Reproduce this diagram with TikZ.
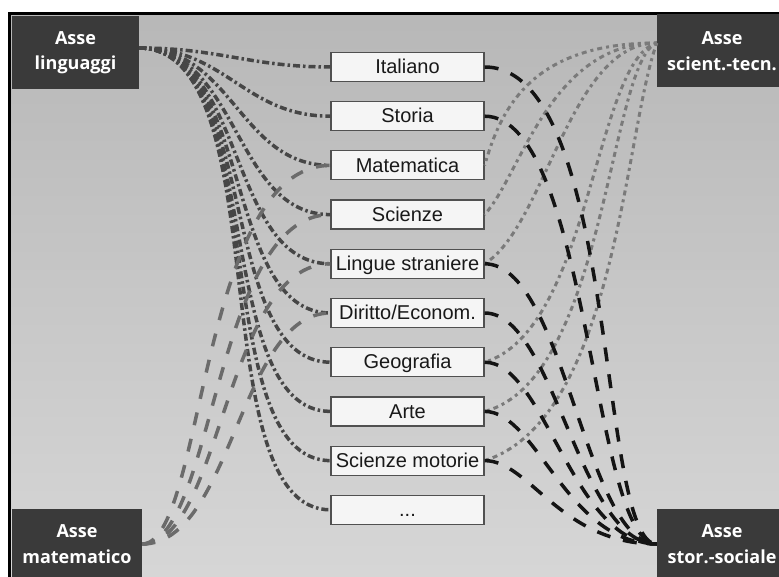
\documentclass[tikz,border=0pt]{standalone}
\usepackage{fontspec}
\setmainfont{Liberation Sans}
\newfontfamily\axisfont{Open Sans}
\usepackage{xcolor}
\usepackage{tikz}
\usetikzlibrary{positioning}

\definecolor{axisgray}{HTML}{3A3A3A}
\definecolor{boxedge}{HTML}{505050}
\definecolor{linggray}{HTML}{464646}
\definecolor{matgray}{HTML}{6B6B6B}
\definecolor{scigray}{HTML}{7A7A7A}
\definecolor{stoblack}{HTML}{141414}

\begin{document}
\begin{tikzpicture}[x=1pt, y=-1pt,
  axisbox/.style={rectangle, fill=axisgray, text=white, align=center,
    minimum width=130pt, minimum height=73pt, inner sep=0pt,
    font=\axisfont\bfseries\fontsize{18}{25.5}\selectfont},
  subjbox/.style={rectangle, draw=boxedge, line width=1.2pt, fill=black!4,
    minimum width=153pt, minimum height=29pt, inner sep=0pt,
    text height=14pt, text depth=0.5pt, text=black!90,
    font=\fontsize{20}{22}\selectfont},
  lingline/.style={draw=linggray, line width=3.5pt, dash pattern=on 7pt off 3pt on 2.5pt off 3pt},
  matline/.style={draw=matgray, line width=3.5pt, dash pattern=on 13pt off 14pt},
  sciline/.style={draw=scigray, line width=3pt, dash pattern=on 3pt off 4pt on 5pt off 4pt},
  stoline/.style={draw=stoblack, line width=3.5pt, dash pattern=on 14pt off 13pt}
]
\useasboundingbox (0,0) rectangle (779,577);

% background and frame
\fill[top color=black!28, bottom color=black!16] (9.5,13.5) rectangle (779,577);
\draw[line width=3pt] (9.5,590) -- (9.5,13.5) -- (790,13.5);

% axes
\node[axisbox, minimum width=127pt] (lin) at (75.5,52.5) {Asse\\linguaggi};
\node[axisbox] (sci) at (722,51) {Asse\\scient.-tecn.};
\node[axisbox, minimum height=70pt] (mat) at (77,544) {Asse\\matematico};
\node[axisbox, minimum height=70pt] (sto) at (722,544) {Asse\\stor.-sociale};

% subjects
\node[subjbox] (ita)  at (407.5,67)    {Italiano};
\node[subjbox] (stor) at (407.5,116.2) {Storia};
\node[subjbox] (mate) at (407.5,165.4) {Matematica};
\node[subjbox] (scie) at (407.5,214.6) {Scienze};
\node[subjbox] (ling) at (407.5,263.8) {Lingue straniere};
\node[subjbox] (dir)  at (407.5,313)   {Diritto/Econom.};
\node[subjbox] (geo)  at (407.5,362.2) {Geografia};
\node[subjbox] (arte) at (407.5,411.4) {Arte};
\node[subjbox] (mot)  at (407.5,460.6) {Scienze motorie};
\node[subjbox] (more) at (407.5,509.8) {...};

% asse linguaggi
\draw[lingline] ([yshift=4.5pt]lin.east) .. controls +(80,0)  and +(-80,0)  .. (ita.west);
\draw[lingline] ([yshift=4.5pt]lin.east) .. controls +(87,0)  and +(-86,0)  .. (stor.west);
\draw[lingline] ([yshift=4.5pt]lin.east) .. controls +(94,0)  and +(-91,0)  .. (mate.west);
\draw[lingline] ([yshift=4.5pt]lin.east) .. controls +(100,0) and +(-97,0)  .. (scie.west);
\draw[lingline] ([yshift=4.5pt]lin.east) .. controls +(107,0) and +(-103,0) .. (ling.west);
\draw[lingline] ([yshift=4.5pt]lin.east) .. controls +(114,0) and +(-108,0) .. (dir.west);
\draw[lingline] ([yshift=4.5pt]lin.east) .. controls +(121,0) and +(-114,0) .. (geo.west);
\draw[lingline] ([yshift=4.5pt]lin.east) .. controls +(127,0) and +(-120,0) .. (arte.west);
\draw[lingline] ([yshift=4.5pt]lin.east) .. controls +(134,0) and +(-125,0) .. (mot.west);
\draw[lingline] ([yshift=4.5pt]lin.east) .. controls +(141,0) and +(-131,0) .. (more.west);

% asse matematico
\draw[matline] (mat.east) .. controls +(62,0) and +(-131,0) .. (mate.west);
\draw[matline] (mat.east) .. controls +(72,0) and +(-116,0) .. (scie.west);
\draw[matline] (mat.east) .. controls +(80,0) and +(-106,0) .. (ling.west);
\draw[matline] (mat.east) .. controls +(90,0) and +(-91,0)  .. (dir.west);

% asse scientifico-tecnologico
\draw[sciline] ([yshift=8pt]sci.west) .. controls +(-127,0) and +(16,-55)  .. (mate.east);
\draw[sciline] ([yshift=8pt]sci.west) .. controls +(-107,0) and +(36,-39)  .. (scie.east);
\draw[sciline] ([yshift=8pt]sci.west) .. controls +(-87,0)  and +(61,-38)  .. (ling.east);
\draw[sciline] ([yshift=8pt]sci.west) .. controls +(-62,17)  and +(106,-32) .. (geo.east);
\draw[sciline] ([yshift=8pt]sci.west) .. controls +(-47,17)  and +(121,-31) .. (arte.east);
\draw[sciline] ([yshift=8pt]sci.west) .. controls +(-32,87)  and +(131,-41) .. (mot.east);

% asse storico-sociale
\draw[stoline] (ita.east)  .. controls +(135,0) and +(-60,0) .. (sto.west);
\draw[stoline] (stor.east) .. controls +(105,0) and +(-65,0) .. (sto.west);
\draw[stoline] (ling.east) .. controls +(80,0)  and +(-72,0) .. (sto.west);
\draw[stoline] (dir.east)  .. controls +(70,0)  and +(-78,0) .. (sto.west);
\draw[stoline] (geo.east)  .. controls +(60,0)  and +(-84,0) .. (sto.west);
\draw[stoline] (arte.east) .. controls +(52,0)  and +(-90,0) .. (sto.west);
\draw[stoline] (mot.east)  .. controls +(45,0)  and +(-96,0) .. (sto.west);

\end{tikzpicture}
\end{document}
